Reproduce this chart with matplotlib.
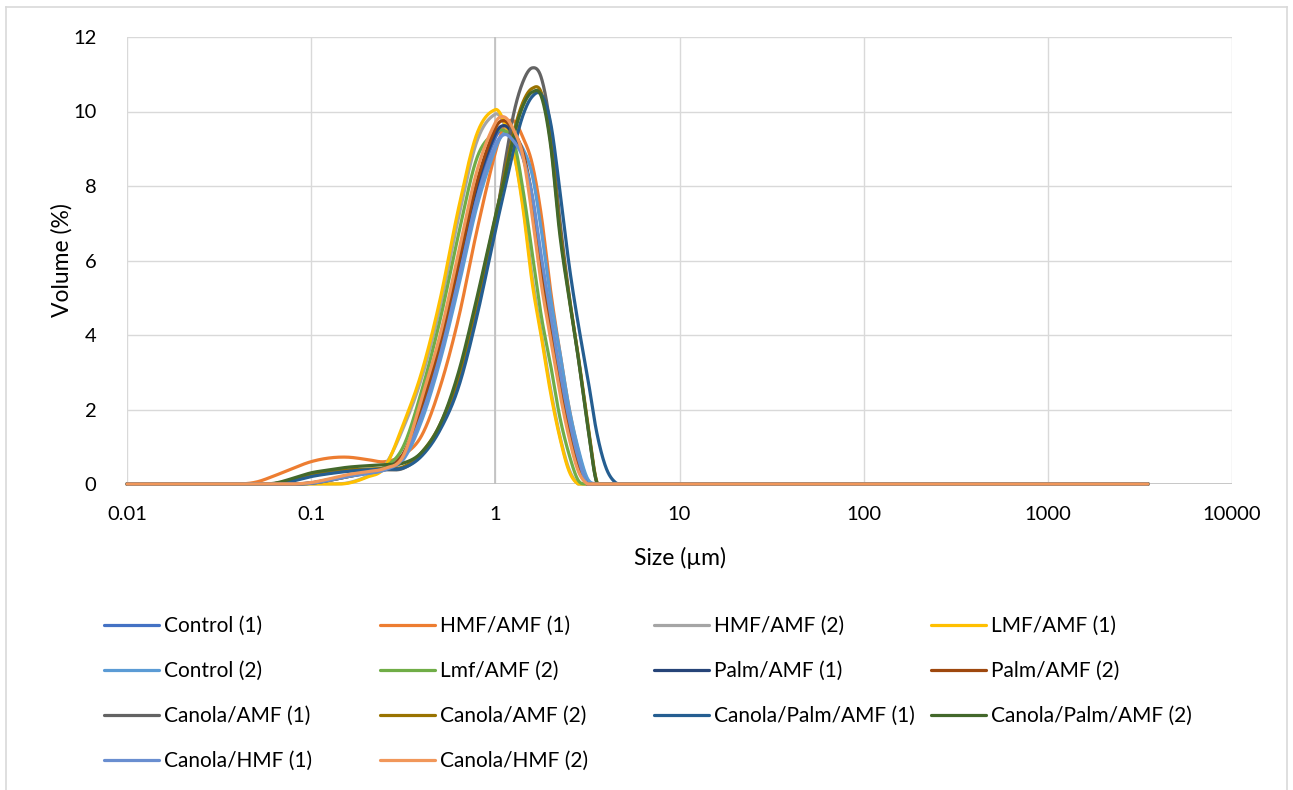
import numpy as np
import matplotlib
matplotlib.use("Agg")
import matplotlib.pyplot as plt
from matplotlib.lines import Line2D

plt.rcParams["font.family"] = ["Lato", "DejaVu Sans"]

# Particle size classes (µm) and volume density (%) per sample
sizes = [0.01, 0.0398, 0.0501, 0.0631, 0.0794, 0.1, 0.126, 0.158, 0.2, 0.251,
         0.316, 0.398, 0.501, 0.631, 0.794, 1.0, 1.122, 1.259, 1.413, 1.585,
         1.778, 1.995, 2.239, 2.512, 2.818, 3.162, 3.548, 3.981, 4.467, 5.012,
         5.623, 3500]

control_1 = [0, 0, 0, 0, 0, 0.03, 0.12, 0.22, 0.3, 0.4, 0.72, 1.95, 3.6, 5.7, 7.85, 9.3,
             9.52, 9.3, 8.8, 7.7, 6.0, 4.45, 2.95, 1.65, 0.65, 0, 0, 0, 0, 0, 0, 0]
hmf_amf_1 = [0, 0, 0.05, 0.22, 0.42, 0.6, 0.7, 0.72, 0.66, 0.6, 0.78, 1.3, 2.6, 4.45, 6.8, 8.9,
             9.6, 9.75, 9.3, 8.6, 7.2, 5.2, 3.55, 2.05, 0.9, 0.1, 0, 0, 0, 0, 0, 0]
hmf_amf_2 = [0, 0, 0, 0, 0, 0, 0, 0.03, 0.2, 0.5, 1.5, 2.85, 4.75, 7.15, 9.2, 9.93,
             9.65, 8.9, 7.5, 5.55, 4.05, 2.55, 1.3, 0.4, 0, 0, 0, 0, 0, 0, 0, 0]
lmf_amf_1 = [0, 0, 0, 0, 0, 0, 0, 0.02, 0.18, 0.45, 1.6, 3.0, 4.95, 7.4, 9.4, 10.05,
             9.7, 8.9, 7.4, 5.4, 3.95, 2.45, 1.25, 0.35, 0, 0, 0, 0, 0, 0, 0, 0]
control_2 = [0, 0, 0, 0, 0, 0.02, 0.1, 0.2, 0.28, 0.38, 0.65, 1.7, 3.3, 5.3, 7.45, 9.0,
             9.42, 9.3, 9.0, 8.3, 6.8, 5.0, 3.55, 2.05, 0.95, 0.15, 0, 0, 0, 0, 0, 0]
lmf_amf_2 = [0, 0, 0, 0, 0, 0.02, 0.1, 0.2, 0.3, 0.45, 1.0, 2.5, 4.4, 6.7, 8.75, 9.45,
             9.48, 9.2, 7.9, 6.2, 4.5, 3.2, 1.8, 0.8, 0.1, 0, 0, 0, 0, 0, 0, 0]
palm_amf_1 = [0, 0, 0, 0, 0, 0.03, 0.12, 0.23, 0.32, 0.42, 0.8, 2.05, 3.7, 5.85, 8.0, 9.4,
              9.62, 9.35, 8.8, 7.6, 5.8, 4.25, 2.8, 1.5, 0.55, 0, 0, 0, 0, 0, 0, 0]
palm_amf_2 = [0, 0, 0, 0, 0, 0.02, 0.1, 0.2, 0.3, 0.4, 0.8, 2.1, 3.75, 5.9, 8.1, 9.55,
              9.75, 9.45, 8.9, 7.7, 5.85, 4.3, 2.85, 1.55, 0.6, 0, 0, 0, 0, 0, 0, 0]
canola_amf_1 = [0, 0, 0, 0.01, 0.1, 0.22, 0.3, 0.35, 0.37, 0.38, 0.42, 0.8, 1.55, 2.8, 4.8, 7.0,
                8.55, 9.95, 10.8, 11.17, 10.9, 9.55, 7.1, 5.1, 3.4, 1.65, 0.05, 0, 0, 0, 0, 0]
canola_amf_2 = [0, 0, 0, 0.01, 0.12, 0.25, 0.33, 0.38, 0.4, 0.42, 0.46, 0.85, 1.6, 2.9, 4.9, 7.15,
                8.3, 9.45, 10.25, 10.62, 10.5, 9.2, 6.85, 5.05, 3.45, 1.7, 0.08, 0, 0, 0, 0, 0]
canola_palm_amf_1 = [0, 0, 0, 0, 0.08, 0.2, 0.28, 0.34, 0.38, 0.4, 0.43, 0.75, 1.45, 2.6, 4.5, 6.8,
                     7.9, 9.0, 9.9, 10.4, 10.45, 9.7, 7.9, 5.9, 4.3, 2.9, 1.4, 0.45, 0.05, 0, 0, 0]
canola_palm_amf_2 = [0, 0, 0, 0.02, 0.15, 0.3, 0.38, 0.45, 0.49, 0.52, 0.56, 0.85, 1.6, 3.0, 5.0, 7.2,
                     8.2, 9.35, 10.15, 10.52, 10.4, 9.1, 6.7, 5.0, 3.4, 1.6, 0.05, 0, 0, 0, 0, 0]
canola_hmf_1 = [0, 0, 0, 0, 0, 0.02, 0.1, 0.2, 0.28, 0.38, 0.7, 1.85, 3.45, 5.5, 7.65, 9.1,
                9.38, 9.2, 8.75, 7.75, 6.1, 4.55, 3.05, 1.75, 0.7, 0, 0, 0, 0, 0, 0, 0]
canola_hmf_2 = [0, 0, 0, 0, 0, 0.04, 0.14, 0.25, 0.33, 0.42, 0.75, 2.3, 4.0, 6.2, 8.4, 9.7,
                9.85, 9.5, 8.8, 7.2, 5.35, 3.9, 2.45, 1.25, 0.35, 0, 0, 0, 0, 0, 0, 0]

labels = ["Control (1)", "HMF/AMF (1)", "HMF/AMF (2)", "LMF/AMF (1)",
          "Control (2)", "Lmf/AMF (2)", "Palm/AMF (1)", "Palm/AMF (2)",
          "Canola/AMF (1)", "Canola/AMF (2)", "Canola/Palm/AMF (1)", "Canola/Palm/AMF (2)",
          "Canola/HMF (1)", "Canola/HMF (2)"]
series = [control_1, hmf_amf_1, hmf_amf_2, lmf_amf_1,
          control_2, lmf_amf_2, palm_amf_1, palm_amf_2,
          canola_amf_1, canola_amf_2, canola_palm_amf_1, canola_palm_amf_2,
          canola_hmf_1, canola_hmf_2]
colors = ["#4472C4", "#ED7D31", "#A5A5A5", "#FFC000",
          "#5B9BD5", "#70AD47", "#264478", "#9E480E",
          "#636363", "#997300", "#255E91", "#43682B",
          "#698ED0", "#F1975A"]


def smooth_line(x, y, n=40):
    """Spreadsheet-style smoothed line: cubic Hermite segments in log-x space."""
    lx = np.log10(np.asarray(x, float))
    y = np.asarray(y, float)
    m = np.zeros_like(y)
    m[1:-1] = (y[2:] - y[:-2]) / (lx[2:] - lx[:-2])
    xs, ys = [], []
    t = np.linspace(0, 1, n)
    for i in range(len(lx) - 1):
        h = lx[i + 1] - lx[i]
        p0 = (lx[i], y[i])
        p1 = (lx[i] + h / 3, y[i] + m[i] * h / 3)
        p2 = (lx[i + 1] - h / 3, y[i + 1] - m[i + 1] * h / 3)
        p3 = (lx[i + 1], y[i + 1])
        b = [(1 - t) ** 3, 3 * (1 - t) ** 2 * t, 3 * (1 - t) * t ** 2, t ** 3]
        xs.append(sum(bk * p[0] for bk, p in zip(b, (p0, p1, p2, p3))))
        ys.append(sum(bk * p[1] for bk, p in zip(b, (p0, p1, p2, p3))))
    # volume can't dip below zero where the curve meets the baseline
    return 10 ** np.concatenate(xs), np.maximum(np.concatenate(ys), 0)


fig = plt.figure(figsize=(12.93, 7.90), dpi=100)
ax = fig.add_axes([127 / 1293, 1 - 484 / 790, (1232 - 127) / 1293, (484 - 37) / 790])

handles = []
for vals, lab, col in zip(series, labels, colors):
    sx, sy = smooth_line(sizes, vals)
    h, = ax.plot(sx, sy, color=col, lw=2.3, label=lab, solid_capstyle="round", clip_on=False, zorder=3)
    handles.append(h)

ax.set_xscale("log")
ax.set_xlim(0.01, 10000)
ax.set_ylim(0, 12)
ax.set_xticks([0.01, 0.1, 1, 10, 100, 1000, 10000])
ax.set_xticklabels(["0.01", "0.1", "1", "10", "100", "1000", "10000"])
ax.xaxis.set_minor_locator(matplotlib.ticker.NullLocator())
ax.set_yticks(range(0, 13, 2))
ax.tick_params(length=0, labelsize=14.5, colors="#000000")
ax.tick_params(axis="x", pad=16)
ax.tick_params(axis="y", pad=22)
ax.grid(True, color="#D9D9D9", lw=1.0, zorder=0)
ax.set_axisbelow(True)
for s in ax.spines.values():
    s.set_visible(False)
ax.axvline(1, color="#BFBFBF", lw=1.2, zorder=1)
ax.axhline(0, color="#BFBFBF", lw=1.2, zorder=1)

ax.set_xlabel("Size (µm)", fontsize=16.5, labelpad=17)
ax.set_ylabel("Volume (%)", fontsize=16.5, labelpad=0)

# legend laid out as four evenly spaced columns under the plot
col_x = [104, 380, 654, 931]
for c in range(4):
    idx = list(range(c, len(handles), 4))
    fig.legend([handles[i] for i in idx], [labels[i] for i in idx],
               loc="upper left", bbox_to_anchor=(col_x[c] / 1293, 1 - 616 / 790),
               frameon=False, fontsize=15, handlelength=2.65, handletextpad=0.25,
               labelspacing=1.2, borderaxespad=0, borderpad=0)

# light frame around the chart area
for xs_, ys_ in [((6, 6), (0, 783)), ((6, 1287), (783, 783)), ((1287, 1287), (783, 0))]:
    fig.add_artist(Line2D([v / 1293 for v in xs_], [v / 790 for v in ys_], color="#D9D9D9", lw=1.2))

fig.savefig("out.png", dpi=100, facecolor="white")
